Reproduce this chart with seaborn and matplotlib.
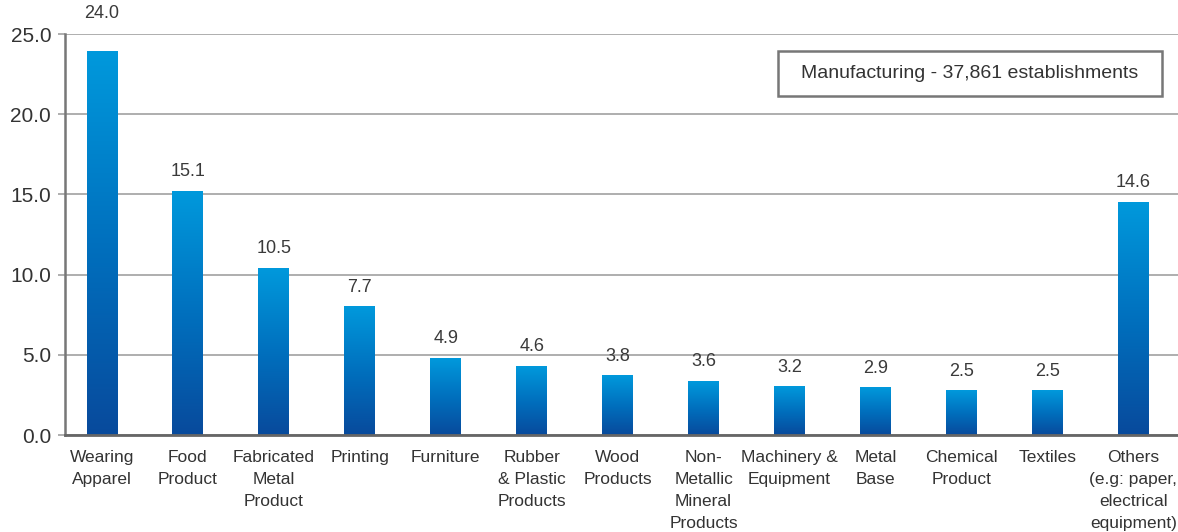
import numpy as np
import pandas as pd
import matplotlib
matplotlib.use("Agg")
import matplotlib.pyplot as plt
import seaborn as sns
from matplotlib.colors import LinearSegmentedColormap
from matplotlib.patches import Rectangle

categories = ["Wearing\nApparel", "Food\nProduct", "Fabricated\nMetal\nProduct", "Printing",
              "Furniture", "Rubber\n& Plastic\nProducts", "Wood\nProducts",
              "Non-\nMetallic\nMineral\nProducts", "Machinery &\nEquipment", "Metal\nBase",
              "Chemical\nProduct", "Textiles", "Others\n(e.g: paper,\nelectrical\nequipment)"]
bar_heights = [23.9, 15.2, 10.4, 8.0, 4.8, 4.3, 3.7, 3.35, 3.0, 2.95, 2.75, 2.75, 14.5]
value_labels = ["24.0", "15.1", "10.5", "7.7", "4.9", "4.6", "3.8", "3.6", "3.2", "2.9", "2.5", "2.5", "14.6"]
y_ticks = [0, 5, 10, 15, 20, 25]
note_text = "Manufacturing - 37,861 establishments"

sns.set_theme(style="white")
plt.rcParams['font.family'] = ['Liberation Sans', 'DejaVu Sans']

df = pd.DataFrame({"category": categories, "value": bar_heights})

fig = plt.figure(figsize=(11.78, 5.32), dpi=100)
ax = fig.add_axes([0.0552, 0.1823, 1 - 0.0552, 0.936 - 0.1823])

sns.barplot(data=df, x="category", y="value", ax=ax, width=0.36, color="#0077c8",
            saturation=1, zorder=2)

cmap = LinearSegmentedColormap.from_list("g", ["#084a9c", "#0070be", "#0099dc"])
grad = np.linspace(0, 1, 256).reshape(-1, 1)
for p in list(ax.patches):
    x0, w, h = p.get_x(), p.get_width(), p.get_height()
    ax.imshow(grad, cmap=cmap, origin="lower", aspect="auto",
              extent=[x0, x0 + w, 0, h], zorder=3)
    p.set_visible(False)

for i, (p, lab) in enumerate(zip(ax.patches, value_labels)):
    cx = p.get_x() + p.get_width() / 2
    h = p.get_height()
    if h > 23:
        ax.annotate(lab, (cx, 25), xytext=(0, 9), textcoords="offset points",
                    ha="center", va="bottom", fontsize=13, color="#3a3a3a",
                    annotation_clip=False)
    else:
        ax.annotate(lab, (cx, h), xytext=(0, 8), textcoords="offset points",
                    ha="center", va="bottom", fontsize=13, color="#3a3a3a")

ax.set_xlim(-0.43, 12.52)
ax.set_ylim(0, 25)
ax.set_yticks(y_ticks)
ax.set_yticklabels([f"{v:.1f}" for v in y_ticks])
ax.set_xlabel("")
ax.set_ylabel("")
ax.yaxis.grid(True, color="#a8a8a8", linewidth=1.3, zorder=0)
ax.set_axisbelow(True)
ax.tick_params(axis="y", which="both", left=True, length=5, width=1.3, color="#a8a8a8",
               labelsize=15, labelcolor="#333333", pad=5)
ax.tick_params(axis="x", bottom=False, labelsize=12.5, labelcolor="#333333", pad=5)
for lbl in ax.get_xticklabels():
    lbl.set_linespacing(1.58)
    lbl.set_va("top")

for s in ["top", "right"]:
    ax.spines[s].set_visible(False)
ax.spines["left"].set_color("#777777")
ax.spines["left"].set_linewidth(1.8)
ax.spines["bottom"].set_color("#666666")
ax.spines["bottom"].set_linewidth(2.0)
ax.spines["bottom"].set_zorder(5)

rect = Rectangle((0.6406, 0.8454), 0.345, 0.1122, transform=ax.transAxes,
                 facecolor="white", edgecolor="#777777", linewidth=1.8, zorder=6)
ax.add_patch(rect)
ax.text(0.6406 + 0.345 / 2, 0.8454 + 0.1122 / 2, note_text, transform=ax.transAxes,
        ha="center", va="center", fontsize=14, color="#333333", zorder=7)

fig.savefig("out.png", dpi=100)
